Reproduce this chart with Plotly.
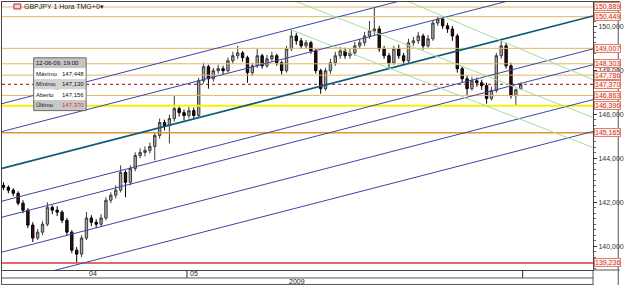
import plotly.graph_objects as go

# ---------------- data ----------------
opens = [142.77, 142.68, 142.55, 142.41, 141.96, 141.64, 140.96, 140.37, 140.64, 141.00,
         141.77, 141.64, 141.55, 141.18, 140.64, 139.82, 139.64, 140.37, 141.28, 141.09,
         141.00, 141.28, 142.09, 142.32, 142.55, 143.36, 142.91, 143.54, 144.13, 144.27,
         144.36, 144.54, 145.04, 145.63, 145.49, 145.81, 146.26, 146.08, 145.95, 146.17,
         145.95, 147.53, 148.17, 147.62, 147.99, 148.08, 147.99, 148.44, 148.67, 148.80,
         148.58, 147.90, 148.21, 148.67, 148.21, 148.53, 148.67, 148.35, 147.99, 148.98,
         149.57, 149.35, 149.12, 149.26, 148.89, 147.99, 147.17, 147.99, 148.35, 148.67,
         148.89, 148.67, 148.80, 149.12, 149.26, 149.57, 149.80, 149.89, 148.98, 148.67,
         148.35, 148.98, 148.67, 148.44, 149.26, 149.35, 149.57, 149.12, 149.44, 150.16,
         150.34, 150.03, 149.89, 149.57, 148.08, 147.62, 147.17, 147.53, 147.44, 147.31,
         146.72, 147.08, 148.67, 149.12, 148.21, 146.85, 147.156]
highs = [142.91, 142.77, 142.64, 142.50, 142.09, 141.73, 141.09, 140.78, 141.14, 142.00,
         141.86, 141.82, 141.64, 141.28, 140.73, 139.96, 140.50, 141.55, 141.41, 141.23,
         141.46, 142.23, 142.45, 142.77, 143.68, 143.45, 143.68, 144.27, 144.45, 144.54,
         144.72, 145.18, 145.81, 145.76, 145.99, 146.85, 146.40, 146.22, 146.35, 146.31,
         147.67, 148.35, 148.26, 148.12, 148.26, 148.21, 148.58, 148.85, 149.12, 148.89,
         148.67, 148.35, 148.98, 148.76, 148.71, 148.85, 148.76, 148.44, 149.12, 149.85,
         149.71, 149.48, 149.39, 149.35, 148.98, 148.08, 148.12, 148.53, 148.85, 149.07,
         149.03, 148.98, 149.30, 149.44, 149.76, 150.25, 150.889, 150.03, 149.12, 148.80,
         149.12, 149.17, 148.80, 149.44, 149.53, 149.76, 149.67, 149.62, 150.30, 150.449,
         150.39, 150.16, 150.03, 149.67, 148.21, 147.76, 147.71, 147.67, 147.58, 147.44,
         147.26, 148.80, 149.44, 149.26, 148.35, 147.17, 147.448]
lows = [142.55, 142.41, 142.27, 141.86, 141.50, 140.82, 140.19, 140.28, 140.50, 140.91,
        141.46, 141.37, 141.05, 140.50, 139.69, 139.236, 139.51, 140.28, 140.91, 140.82,
        140.87, 141.18, 141.96, 142.18, 142.45, 142.23, 142.77, 143.41, 144.00, 144.09,
        144.22, 143.91, 144.90, 145.27, 144.68, 145.67, 145.90, 145.72, 145.81, 145.81,
        145.86, 147.40, 147.17, 147.49, 147.85, 147.81, 147.90, 148.30, 148.53, 148.40,
        147.44, 147.76, 148.12, 148.08, 148.12, 148.40, 148.21, 147.81, 147.90, 148.89,
        149.17, 148.98, 148.98, 148.76, 147.85, 146.94, 147.08, 147.85, 148.21, 148.53,
        148.53, 148.53, 148.67, 148.98, 149.12, 149.44, 149.62, 148.85, 148.53, 148.08,
        148.26, 148.53, 148.26, 148.35, 149.12, 149.21, 148.94, 149.03, 149.35, 150.03,
        149.89, 149.71, 149.35, 147.90, 147.44, 146.863, 147.08, 147.26, 147.12, 146.49,
        146.63, 146.99, 148.53, 148.08, 146.72, 146.396, 147.130]
closes = [142.68, 142.55, 142.41, 141.96, 141.64, 140.96, 140.37, 140.64, 141.00, 141.77,
          141.64, 141.55, 141.18, 140.64, 139.82, 139.64, 140.37, 141.28, 141.09, 141.00,
          141.28, 142.09, 142.32, 142.55, 143.36, 142.91, 143.54, 144.13, 144.27, 144.36,
          144.54, 145.04, 145.63, 145.49, 145.81, 146.26, 146.08, 145.95, 146.17, 145.95,
          147.53, 148.17, 147.62, 147.99, 148.08, 147.99, 148.44, 148.67, 148.80, 148.58,
          147.90, 148.21, 148.67, 148.21, 148.53, 148.67, 148.35, 147.99, 148.98, 149.57,
          149.35, 149.12, 149.26, 148.89, 147.99, 147.17, 147.99, 148.35, 148.67, 148.89,
          148.67, 148.80, 149.12, 149.26, 149.57, 149.80, 149.89, 148.98, 148.67, 148.35,
          148.98, 148.67, 148.44, 149.26, 149.35, 149.57, 149.12, 149.44, 150.16, 150.34,
          150.03, 149.89, 149.57, 148.08, 147.62, 147.17, 147.53, 147.44, 147.31, 146.72,
          147.08, 148.67, 149.12, 148.21, 146.85, 147.12, 147.370]
bar_index = list(range(len(closes)))

# horizontal price levels (shown with boxed labels on the right axis)
level_values = [150.889, 150.449, 149.007, 148.303, 147.786, 147.370, 146.863, 146.396, 145.165, 139.236]
level_kinds = ["res", "res", "res", "res", "res", "last", "res", "yellow", "orange", "red"]

# parallel channel lines: price at left edge / right edge
channel_x = [-0.3, 120.8]
channel_p0 = [146.49, 145.22, 143.54, 142.05, 141.32, 139.73, 138.28]
channel_p1 = [153.43, 152.16, 150.48, 148.98, 148.26, 146.67, 145.22]
channel_kind = ["blue", "blue", "teal", "blue", "blue", "blue", "blue"]

# descending fan lines
fan_x0 = [82.7, 59.7, 58.9]
fan_p0 = [151.16, 151.16, 149.85]
fan_x1 = [120.8, 120.8, 120.8]
fan_p1 = [147.58, 145.86, 144.49]

# time axis labels
month_labels = ["04", "05"]
month_label_pos = [18.4, 39.1]
month_separators = [37.6, 106.4]
year_label = "2009"
year_label_pos = 60.2

title_text = "GBPJPY 1 Hora TMG+0▾"
info_title = "12-06-09, 19:00"
info_labels = ["Máximo", "Mínimo", "Aberto", "Último"]
info_values = [147.448, 147.130, 147.156, 147.370]

# ---------------- layout helpers ----------------
W, H = 625, 285
ML, MR, MT, MB = 1, 27, 1, 15
PW, PH = W - ML - MR, H - MT - MB
FONT = "Liberation Sans, Arial, sans-serif"


def px(xp):
    return (xp - ML) / PW


def py(yp):
    return 1 - (yp - MT) / PH


def fmt(v):
    return f"{v:.3f}".replace(".", ",")


fig = go.Figure()

level_style = {
    "res": dict(color="#E2B862", width=1, dash="solid"),
    "last": dict(color="#8E0E0E", width=1, dash="dot"),
    "yellow": dict(color="#F6F200", width=2, dash="solid"),
    "orange": dict(color="#E0962A", width=1.5, dash="solid"),
    "red": dict(color="#E46A6A", width=2, dash="solid"),
}
for v, k in zip(level_values, level_kinds):
    fig.add_trace(go.Scatter(x=[-0.3, 120.8], y=[v, v], mode="lines",
                             line=level_style[k], hoverinfo="skip", showlegend=False))

chan_style = {"blue": dict(color="#3A46A8", width=1), "teal": dict(color="#0A5C78", width=1.6)}
for a, b, k in zip(channel_p0, channel_p1, channel_kind):
    fig.add_trace(go.Scatter(x=channel_x, y=[a, b], mode="lines", line=chan_style[k],
                             hoverinfo="skip", showlegend=False))

for x0, p0, x1, p1 in zip(fan_x0, fan_p0, fan_x1, fan_p1):
    fig.add_trace(go.Scatter(x=[x0, x1], y=[p0, p1], mode="lines",
                             line=dict(color="#A8DCA0", width=1), hoverinfo="skip", showlegend=False))

fig.add_trace(go.Candlestick(
    x=bar_index, open=opens, high=highs, low=lows, close=closes,
    increasing=dict(line=dict(color="#3C3C3C", width=1), fillcolor="#A6A6A6"),
    decreasing=dict(line=dict(color="#000000", width=1), fillcolor="#3A0E0E"),
    whiskerwidth=0, showlegend=False, hoverinfo="skip"))

annotations = []
shapes = []

# right-axis level labels
for v in level_values:
    annotations.append(dict(x=1, xref="paper", y=v, yref="y", xanchor="left", yanchor="middle",
                            xshift=1, text=fmt(v), showarrow=False,
                            font=dict(size=7, color="#C8302C", family=FONT),
                            bgcolor="#FFF3EA", bordercolor="#E0806C", borderwidth=1, borderpad=0))

# title
shapes.append(dict(type="rect", xref="paper", yref="paper", x0=px(13), x1=px(20), y0=py(8), y1=py(3),
                   line=dict(color="#B03030", width=1), fillcolor="#F2D6D6"))
annotations.append(dict(x=px(21), y=py(5.5), xref="paper", yref="paper", xanchor="left", yanchor="middle",
                        text=title_text, showarrow=False, font=dict(size=7, color="#222", family=FONT)))

# info box
bx0, bx1, by0 = 33, 86, 57
rh = 10.6
row_bg = ["#C4C4C4", "#FFFFFF", "#D4D4D4", "#FFFFFF", "#C8C8C8"]
for r in range(5):
    shapes.append(dict(type="rect", xref="paper", yref="paper", x0=px(bx0), x1=px(bx1),
                       y0=py(by0 + rh * (r + 1)), y1=py(by0 + rh * r),
                       line=dict(width=0), fillcolor=row_bg[r]))
shapes.append(dict(type="rect", xref="paper", yref="paper", x0=px(bx0), x1=px(bx1),
                   y0=py(by0 + rh * 5), y1=py(by0), line=dict(color="#6A6A6A", width=1)))
IFS = 6
annotations.append(dict(x=px(bx0 + 1), y=py(by0 + rh * 0.5), xref="paper", yref="paper",
                        xanchor="left", yanchor="middle", text=info_title, showarrow=False,
                        borderpad=0, font=dict(size=IFS, color="#111", family=FONT)))
for i, (lab, val) in enumerate(zip(info_labels, info_values)):
    yc = py(by0 + rh * (i + 1.5))
    annotations.append(dict(x=px(bx0 + 1), y=yc, xref="paper", yref="paper", xanchor="left",
                            yanchor="middle", text=lab, showarrow=False, borderpad=0,
                            font=dict(size=IFS, color="#111", family=FONT)))
    annotations.append(dict(x=px(bx1 - 1), y=yc, xref="paper", yref="paper", xanchor="right",
                            yanchor="middle", text=fmt(val), showarrow=False, borderpad=0,
                            font=dict(size=IFS, color="#E03030" if i == 3 else "#111", family=FONT)))

# time axis rows
for lab, pos in zip(month_labels, month_label_pos):
    annotations.append(dict(x=pos, xref="x", y=py(274), yref="paper", text=lab, showarrow=False,
                            xanchor="center", yanchor="middle", font=dict(size=7, color="#222", family=FONT)))
annotations.append(dict(x=year_label_pos, xref="x", y=py(281.5), yref="paper", text=year_label,
                        showarrow=False, xanchor="center", yanchor="middle",
                        font=dict(size=7, color="#222", family=FONT)))
for s in month_separators:
    shapes.append(dict(type="line", xref="x", yref="paper", x0=s, x1=s, y0=py(278), y1=py(270),
                       line=dict(color="#222", width=1)))
# frame lines
frame = [
    (1, 278, 598, 278), (1, 284.5, 598, 284.5), (598, 270, 598, 285),
    (598, 270, 625, 270), (623.5, 0, 623.5, 285), (598, 0.5, 625, 0.5), (0.5, 270, 0.5, 285),
]
for x0, y0, x1, y1 in frame:
    shapes.append(dict(type="line", xref="paper", yref="paper", x0=px(x0), x1=px(x1), y0=py(y0), y1=py(y1),
                       line=dict(color="#555", width=1)))

fig.update_layout(
    width=W, height=H, margin=dict(l=ML, r=MR, t=MT, b=MB, pad=0),
    paper_bgcolor="white", plot_bgcolor="white", separators=",.",
    showlegend=False, annotations=annotations, shapes=shapes,
    xaxis=dict(range=[-0.304, 120.81], showgrid=False, zeroline=False, showticklabels=False,
               ticks="", showline=True, linecolor="#444", linewidth=1, mirror=True,
               rangeslider=dict(visible=False), fixedrange=True),
    yaxis=dict(range=[138.916, 151.116], side="right", showgrid=False, zeroline=False,
               tick0=0, dtick=2, tickformat=".3f", ticks="outside", ticklen=3, tickcolor="#333",
               tickfont=dict(size=7, color="#333", family=FONT),
               minor=dict(dtick=0.25, ticks="outside", ticklen=2, tickcolor="#666"),
               showline=True, linecolor="#444", linewidth=1, mirror=True, fixedrange=True),
)

fig.write_html("out.html")
